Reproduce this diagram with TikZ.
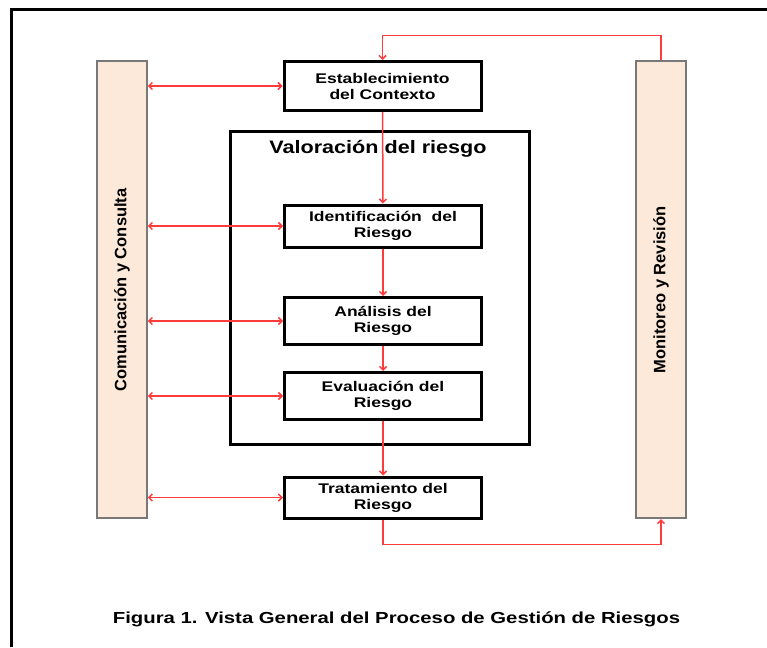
\documentclass[tikz,border=0pt]{standalone}
\usepackage{fontspec}
\setmainfont{Liberation Sans}
\newfontfamily\boxfont[FakeStretch=1.25]{Liberation Sans}
\newfontfamily\titlefont[FakeStretch=1.2]{Liberation Sans}
\newfontfamily\capfont[FakeStretch=1.27]{Liberation Sans}
\usepackage{tikz}
\usetikzlibrary{arrows.meta,positioning}
\definecolor{rojo}{RGB}{255,60,60}
\definecolor{durazno}{RGB}{252,233,218}
\definecolor{borde}{RGB}{120,120,120}
\tikzset{
  paso/.style={draw,line width=3pt,fill=white,minimum width=197pt,align=center,
    font=\boxfont\bfseries\fontsize{14}{16}\selectfont},
  barra/.style={draw=borde,line width=1.6pt,fill=durazno,minimum width=50pt,minimum height=457pt,
    font=\bfseries\fontsize{16.5}{18}\selectfont},
  flecha/.style={draw=rojo,line width=1.5pt,-{Straight Barb[length=3.5pt,width=7pt]}},
  doble/.style={flecha,{Straight Barb[length=3.5pt,width=7pt]}-{Straight Barb[length=3.5pt,width=7pt]}}
}
\begin{document}
\begin{tikzpicture}[x=1pt,y=-1pt]
\useasboundingbox (0,0) rectangle (767,647);
% marco
\draw[line width=3pt] (11,647) |- (767,10);
% barras laterales
\node[barra] (com) at (122,289.75) {\rotatebox{90}{Comunicación y Consulta}};
\node[barra] (mon) at (661,289.75) {\rotatebox{90}{Monitoreo y Revisión}};
% valoracion del riesgo
\node[draw,line width=3pt,minimum width=299pt,minimum height=312.5pt] (val) at (380,288.25) {};
\node[font=\titlefont\bfseries\fontsize{18}{20}\selectfont] (valt) at (378,149) {Valoración del riesgo};
% pasos
\node[paso,minimum height=49pt] (est) at (382.5,86) {Establecimiento\\del Contexto};
\node[paso,minimum height=42pt] (ide) at (383,226) {Identificación\ \ del\\Riesgo};
\node[paso,minimum height=47pt] (ana) at (383,321) {Análisis del\\Riesgo};
\node[paso,minimum height=47pt] (eva) at (383,396) {Evaluación del\\Riesgo};
\node[paso,minimum height=41pt] (tra) at (383,497.5) {Tratamiento del\\Riesgo};
% flujo
\draw[flecha] (est) -- (ide);
\draw[flecha] (ide) -- (ana);
\draw[flecha] (ana) -- (eva);
\draw[flecha] (eva) -- (tra);
\draw[flecha] (tra.south) -- ++(0,25) -| (mon.south);
\draw[flecha] (mon.north) -- ++(0,-25) -| (est.north);
% comunicacion
\foreach \p in {est,ide,ana,eva,tra}
  \draw[doble] (com.east |- \p.west) -- (\p.west);
% pie
\node[font=\capfont\bfseries\fontsize{16}{18}\selectfont] (pie) at (396.5,619) {Figura 1. Vista General del Proceso de Gestión de Riesgos};
\end{tikzpicture}
\end{document}
